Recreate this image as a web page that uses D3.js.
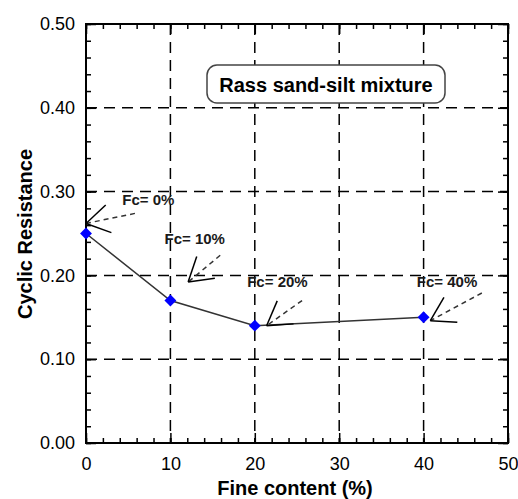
<!DOCTYPE html>
<html>
<head>
<meta charset="utf-8">
<script src="https://cdn.jsdelivr.net/npm/d3@7"></script>
<style>
  body { margin: 0; background: #fff; }
  text { font-family: Arial, "Liberation Sans", sans-serif; }
</style>
</head>
<body>
<div id="chart"></div>
<script>
// Cyclic resistance vs fine content - Rass sand-silt mixture

const fineContent = [0, 10, 20, 40];
const cyclicResistance = [0.25, 0.17, 0.14, 0.15];

const xTicks = [0, 10, 20, 30, 40, 50];
const yTicks = [0, 0.1, 0.2, 0.3, 0.4, 0.5];

// annotation labels, text anchor point, arrow tail and arrow tip (data units)
const noteLabels = ['Fc= 0%', 'Fc= 10%', 'Fc= 20%', 'Fc= 40%'];
const noteTextX = [4.3, 9.3, 19.1, 39.2];
const noteTextY = [0.284, 0.237, 0.186, 0.186];
const arrowTailX = [5.8, 15.9, 25.6, 46.9];
const arrowTailY = [0.274, 0.224, 0.170, 0.179];
const arrowTipX = [0.0, 12.1, 21.4, 40.8];
const arrowTipY = [0.262, 0.192, 0.140, 0.146];

const width = 518, height = 499;
const margin = {top: 24, right: 10, bottom: 56, left: 86};
const w = width - margin.left - margin.right;
const h = height - margin.top - margin.bottom;

const svg = d3.select('#chart').append('svg')
    .attr('width', width)
    .attr('height', height);

const g = svg.append('g')
    .attr('transform', `translate(${margin.left},${margin.top})`);

const x = d3.scaleLinear().domain([0, 50]).range([0, w]);
const y = d3.scaleLinear().domain([0, 0.5]).range([h, 0]);

// dashed grid
g.append('g').selectAll('line')
    .data(xTicks.slice(1, -1))
    .enter().append('line')
    .attr('x1', d => x(d)).attr('x2', d => x(d))
    .attr('y1', 0).attr('y2', h)
    .attr('stroke', '#000').attr('stroke-width', 1.5)
    .attr('stroke-dasharray', '11,7');

g.append('g').selectAll('line')
    .data(yTicks.slice(1, -1))
    .enter().append('line')
    .attr('y1', d => y(d)).attr('y2', d => y(d))
    .attr('x1', 0).attr('x2', w)
    .attr('stroke', '#000').attr('stroke-width', 1.5)
    .attr('stroke-dasharray', '11,7');

// inward ticks on all four sides
const minorX = d3.range(0, 50.01, 2);
const minorY = d3.range(0, 0.501, 0.02);

function tickAxis(axis, scale, values, size, transform) {
    const a = g.append('g')
        .attr('transform', transform)
        .call(axis(scale).tickValues(values).tickSize(size).tickFormat(''));
    a.select('.domain').remove();
    a.selectAll('line').attr('stroke', '#000').attr('stroke-width', 1.5);
    return a;
}

tickAxis(d3.axisTop, x, minorX, 5, `translate(0,${h})`);
tickAxis(d3.axisBottom, x, minorX, 5, 'translate(0,0)');
tickAxis(d3.axisRight, y, minorY, 5, 'translate(0,0)');
tickAxis(d3.axisLeft, y, minorY, 5, `translate(${w},0)`);
tickAxis(d3.axisTop, x, xTicks, 10, `translate(0,${h})`);
tickAxis(d3.axisBottom, x, xTicks, 10, 'translate(0,0)');
tickAxis(d3.axisRight, y, yTicks, 10, 'translate(0,0)');
tickAxis(d3.axisLeft, y, yTicks, 10, `translate(${w},0)`);

// frame
g.append('rect')
    .attr('width', w).attr('height', h)
    .attr('fill', 'none')
    .attr('stroke', '#000').attr('stroke-width', 2);

// tick labels
const xLab = g.append('g')
    .attr('transform', `translate(0,${h})`)
    .call(d3.axisBottom(x).tickValues(xTicks).tickSize(0).tickPadding(14)
        .tickFormat(d3.format('d')));
xLab.select('.domain').remove();
xLab.selectAll('text').style('font-size', '18px').attr('fill', '#000');

const yLab = g.append('g')
    .call(d3.axisLeft(y).tickValues(yTicks).tickSize(0).tickPadding(11)
        .tickFormat(d3.format('.2f')));
yLab.select('.domain').remove();
yLab.selectAll('text').style('font-size', '18px').attr('fill', '#000');

// axis titles
g.append('text')
    .attr('x', w / 2 - 2)
    .attr('y', h + 52)
    .attr('text-anchor', 'middle')
    .style('font-size', '20px')
    .style('font-weight', 'bold')
    .text('Fine content (%)');

g.append('text')
    .attr('transform', 'rotate(-90)')
    .attr('x', -(234 - margin.top))
    .attr('y', -54)
    .attr('text-anchor', 'middle')
    .style('font-size', '20px')
    .style('font-weight', 'bold')
    .text('Cyclic Resistance');

// data line and markers
const data = fineContent.map((d, i) => ({fc: d, cr: cyclicResistance[i]}));

g.append('path')
    .datum(data)
    .attr('fill', 'none')
    .attr('stroke', '#333')
    .attr('stroke-width', 1.5)
    .attr('d', d3.line().x(d => x(d.fc)).y(d => y(d.cr)));

g.selectAll('.pt')
    .data(data)
    .enter().append('path')
    .attr('class', 'pt')
    .attr('transform', d => `translate(${x(d.fc)},${y(d.cr)})`)
    .attr('d', d3.symbol().type(d3.symbolDiamond2).size(90))
    .attr('fill', '#0000ff');

// annotations: dashed shaft with open solid arrow head
noteLabels.forEach((label, i) => {
    const tx = x(arrowTipX[i]), ty = y(arrowTipY[i]);
    const sx = x(arrowTailX[i]), sy = y(arrowTailY[i]);
    g.append('line')
        .attr('x1', sx).attr('y1', sy).attr('x2', tx).attr('y2', ty)
        .attr('stroke', '#333').attr('stroke-width', 1.5)
        .attr('stroke-dasharray', '5,4');
    const ang = Math.atan2(sy - ty, sx - tx);
    [-0.55, 0.55].forEach(da => {
        g.append('line')
            .attr('x1', tx).attr('y1', ty)
            .attr('x2', tx + 27 * Math.cos(ang + da))
            .attr('y2', ty + 27 * Math.sin(ang + da))
            .attr('stroke', '#000').attr('stroke-width', 1.5);
    });
    g.append('text')
        .attr('x', x(noteTextX[i]))
        .attr('y', y(noteTextY[i]))
        .style('font-size', '15px')
        .style('font-weight', 'bold')
        .attr('fill', '#1a1a1a')
        .text(label);
});

// title box
const title = g.append('g').attr('transform', 'translate(121,41)');
title.append('rect')
    .attr('width', 238).attr('height', 38)
    .attr('rx', 10)
    .attr('fill', '#fff')
    .attr('stroke', '#444').attr('stroke-width', 1.5);
title.append('text')
    .attr('x', 119).attr('y', 27)
    .attr('text-anchor', 'middle')
    .style('font-size', '20px')
    .style('font-weight', 'bold')
    .text('Rass sand-silt mixture');
</script>
</body>
</html>
